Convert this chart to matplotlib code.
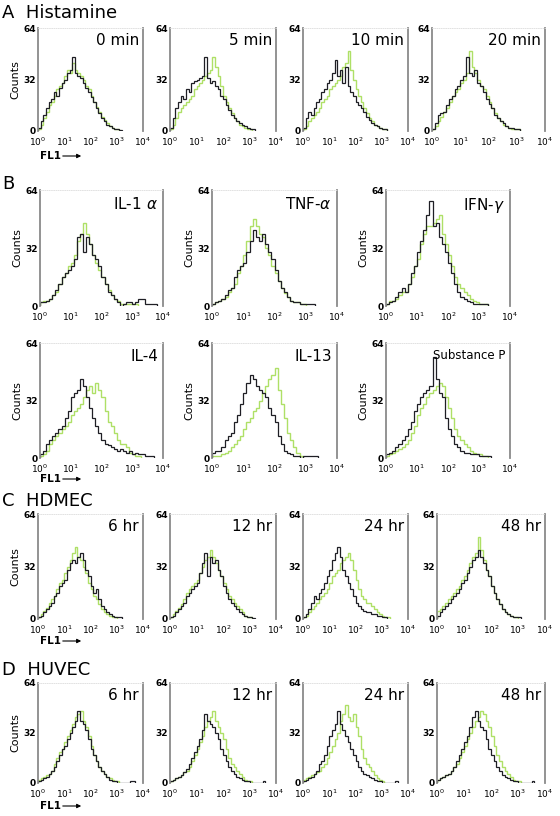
import numpy as np
import matplotlib
matplotlib.use('Agg')
import matplotlib.pyplot as plt

# histogram counts, bins of 0.1 decade starting at 10^0
# (control = black, treated = green)
histamine_titles = ['0 min', '5 min', '10 min', '20 min']
histamine_black = [
    [2, 6, 10, 14, 18, 20, 24, 22, 27, 30, 32, 36, 38, 46, 36, 34, 33, 30, 27, 24, 21, 18, 14, 11, 8, 6, 4, 3, 2, 1, 1, 0.5],
    [2, 8, 14, 18, 22, 20, 26, 24, 30, 31, 32, 33, 34, 46, 33, 30, 31, 28, 26, 22, 20, 16, 13, 10, 8, 6, 5, 4, 3, 2, 1, 1],
    [2, 8, 12, 10, 14, 18, 20, 24, 26, 30, 32, 36, 44, 34, 38, 30, 40, 28, 24, 22, 18, 16, 14, 12, 9, 7, 5, 4, 3, 2, 1, 1],
    [1, 5, 10, 11, 12, 16, 20, 22, 26, 28, 32, 34, 46, 36, 34, 38, 30, 28, 24, 20, 17, 14, 10, 8, 6, 5, 3, 2, 2, 1, 1],
]
histamine_green = [
    [1, 4, 8, 12, 16, 18, 22, 26, 28, 30, 34, 38, 36, 42, 38, 36, 34, 32, 28, 26, 22, 18, 15, 12, 9, 7, 5, 3, 2, 1, 1],
    [1, 4, 8, 12, 14, 16, 18, 20, 22, 26, 28, 30, 32, 34, 36, 38, 46, 40, 34, 28, 22, 18, 14, 11, 8, 6, 4, 3, 2, 1, 1],
    [1, 3, 6, 8, 10, 12, 14, 18, 20, 22, 26, 28, 30, 32, 34, 40, 42, 50, 38, 32, 26, 22, 18, 14, 11, 8, 6, 4, 3, 2, 1, 1],
    [1, 3, 6, 9, 12, 14, 18, 22, 24, 26, 30, 32, 36, 50, 40, 36, 32, 28, 26, 22, 18, 14, 11, 8, 6, 4, 3, 2, 1, 1, 1],
]

cytokine_titles = ['IL-1 $\\alpha$', 'TNF-$\\alpha$', 'IFN-$\\gamma$', 'IL-4', 'IL-13', 'Substance P']
cytokine_black = [
    [2, 2, 3, 4, 6, 9, 12, 16, 18, 20, 22, 26, 38, 40, 30, 38, 34, 28, 26, 22, 16, 12, 8, 6, 4, 2, 0, 1, 2, 2, 1, 2, 4, 4, 1, 1, 1, 1],
    [1, 2, 3, 4, 6, 9, 10, 16, 20, 22, 24, 30, 36, 42, 38, 36, 40, 34, 30, 26, 20, 14, 10, 8, 5, 3, 2, 2, 1, 1, 1, 1, 1],
    [1, 2, 3, 5, 8, 10, 8, 12, 18, 22, 30, 36, 42, 50, 58, 44, 46, 38, 34, 30, 24, 18, 12, 8, 5, 4, 3, 2, 1, 1, 1, 1, 1],
    [2, 4, 8, 10, 12, 14, 16, 18, 22, 26, 34, 36, 38, 44, 40, 34, 28, 22, 18, 14, 10, 8, 7, 6, 5, 4, 5, 4, 3, 4, 2, 3, 2, 2, 1, 1, 1],
    [3, 4, 4, 6, 10, 12, 14, 20, 24, 30, 36, 42, 46, 44, 40, 38, 36, 34, 28, 24, 20, 12, 8, 4, 3, 2, 1, 1, 0, 1, 1, 1, 1, 1],
    [2, 3, 4, 6, 8, 10, 12, 16, 20, 26, 30, 34, 36, 38, 40, 56, 44, 36, 34, 22, 16, 12, 8, 6, 4, 3, 3, 2, 2, 2, 1, 1, 1, 1],
]
cytokine_green = [
    [2, 3, 3, 4, 6, 8, 12, 16, 18, 22, 24, 28, 36, 40, 46, 40, 34, 28, 24, 20, 16, 12, 9, 6, 4, 3, 1, 1, 1, 1, 1, 1],
    [1, 2, 3, 4, 5, 8, 10, 12, 18, 22, 28, 36, 44, 48, 44, 40, 38, 32, 28, 22, 18, 14, 10, 7, 5, 3, 2, 2, 1, 1],
    [1, 3, 3, 4, 6, 8, 8, 12, 16, 22, 26, 34, 40, 44, 44, 46, 48, 50, 40, 34, 28, 22, 16, 12, 10, 8, 6, 4, 3, 2, 1, 1, 1],
    [1, 2, 4, 8, 10, 12, 14, 16, 18, 20, 24, 26, 28, 30, 34, 38, 40, 36, 42, 38, 34, 26, 20, 18, 14, 10, 8, 8, 6, 3, 2, 1, 1],
    [1, 1, 1, 2, 3, 4, 6, 8, 10, 12, 16, 20, 22, 26, 28, 32, 36, 40, 44, 46, 50, 38, 30, 22, 14, 10, 6, 3, 1],
    [1, 2, 3, 4, 5, 6, 8, 10, 14, 18, 24, 28, 30, 34, 36, 38, 40, 42, 40, 34, 28, 22, 16, 12, 10, 8, 6, 4, 3, 2, 2, 1, 1],
]

time_titles = ['6 hr', '12 hr', '24 hr', '48 hr']
hdmec_black = [
    [1, 2, 4, 6, 8, 10, 14, 16, 20, 22, 24, 30, 34, 36, 34, 38, 40, 36, 30, 26, 20, 16, 18, 12, 8, 6, 4, 3, 2, 1, 1, 1],
    [1, 2, 4, 6, 8, 10, 14, 16, 18, 20, 22, 28, 34, 40, 26, 38, 34, 36, 30, 26, 20, 16, 12, 10, 8, 6, 4, 3, 2, 1, 1, 0.5],
    [1, 3, 6, 10, 14, 12, 16, 18, 22, 26, 30, 36, 40, 44, 38, 30, 26, 22, 18, 14, 10, 8, 6, 5, 4, 4, 3, 3, 2, 2, 1, 1],
    [2, 4, 6, 8, 10, 12, 14, 16, 18, 22, 24, 28, 32, 36, 38, 42, 38, 34, 30, 26, 20, 16, 12, 9, 6, 4, 3, 2, 1, 1, 1],
]
hdmec_green = [
    [1, 3, 5, 7, 10, 12, 14, 18, 22, 24, 28, 32, 36, 40, 44, 38, 36, 32, 28, 22, 18, 14, 12, 9, 6, 4, 3, 2, 1, 1],
    [1, 3, 5, 7, 9, 12, 16, 18, 20, 22, 24, 28, 32, 36, 38, 42, 38, 34, 30, 26, 22, 18, 14, 12, 10, 8, 6, 4, 2, 1, 1],
    [1, 2, 4, 6, 8, 10, 12, 14, 16, 18, 22, 26, 28, 30, 34, 36, 38, 40, 36, 30, 24, 18, 14, 12, 10, 10, 8, 6, 4, 3, 2, 1, 1],
    [5, 6, 8, 10, 12, 14, 16, 18, 20, 24, 26, 30, 34, 38, 40, 50, 42, 36, 30, 26, 20, 16, 12, 9, 6, 4, 3, 2, 1, 1],
]
huvec_black = [
    [1, 2, 3, 4, 6, 8, 10, 14, 18, 22, 24, 28, 32, 36, 40, 46, 40, 38, 34, 28, 22, 18, 14, 10, 8, 6, 4, 2, 1, 1, 0, 0, 0, 0, 0, 1, 1],
    [1, 2, 3, 4, 5, 7, 9, 12, 16, 20, 24, 28, 34, 44, 40, 38, 36, 32, 28, 22, 18, 14, 10, 8, 6, 4, 3, 2, 1, 1, 0, 0, 0, 0, 0, 1],
    [1, 2, 3, 4, 6, 8, 12, 14, 18, 24, 30, 34, 38, 46, 38, 34, 30, 26, 22, 18, 14, 10, 8, 6, 5, 4, 3, 2, 1, 1, 0, 0, 0, 0, 0, 1],
    [2, 3, 4, 5, 6, 8, 10, 14, 18, 22, 26, 30, 36, 42, 46, 40, 36, 34, 28, 22, 18, 14, 10, 8, 5, 4, 3, 2, 1, 1, 0, 0, 0, 0, 0, 1],
]
huvec_green = [
    [2, 3, 4, 5, 6, 8, 12, 16, 20, 22, 26, 30, 34, 38, 42, 44, 46, 40, 36, 30, 24, 18, 14, 10, 8, 6, 4, 3, 2, 1, 1],
    [1, 2, 3, 4, 5, 7, 8, 10, 14, 18, 22, 26, 30, 36, 40, 42, 46, 40, 36, 32, 28, 22, 16, 12, 10, 8, 6, 4, 2, 1, 1],
    [2, 3, 4, 5, 6, 7, 8, 10, 12, 16, 20, 24, 28, 32, 40, 44, 50, 42, 40, 44, 36, 30, 22, 16, 12, 10, 8, 5, 3, 2, 1],
    [2, 3, 4, 5, 6, 8, 10, 12, 16, 20, 24, 28, 32, 36, 40, 42, 46, 44, 40, 36, 30, 24, 18, 14, 10, 8, 6, 4, 2, 1, 1],
]

W, H = 560, 816
fig = plt.figure(figsize=(W / 100, H / 100), dpi=100)

GREEN = '#aee066'
BLACK = '#1e1e24'


def px_axes(x0, x1, y0, y1):
    return fig.add_axes([x0 / W, 1 - y1 / H, (x1 - x0) / W, (y1 - y0) / H])


def hist_panel(ax, black, green, title, counts=False, tsize=11):
    for vals, col, lw in [(green, GREEN, 1.0), (black, BLACK, 0.9)]:
        edges = 10 ** (np.arange(len(vals) + 1) * 0.1)
        ax.stairs(vals, edges, color=col, lw=lw)
    ax.set_xscale('log')
    ax.set_xlim(1, 1e4)
    ax.set_ylim(0, 64)
    ax.set_xticks([1, 10, 100, 1000, 10000])
    ax.set_xticklabels(['$10^0$', '$10^1$', '$10^2$', '$10^3$', '$10^4$'])
    ax.minorticks_off()
    ax.set_yticks([0, 32, 64])
    ax.tick_params(axis='x', length=0, labelsize=6.5, pad=3)
    ax.tick_params(axis='y', length=0, labelsize=6.5, pad=1.5)
    for lab in ax.get_yticklabels():
        lab.set_fontweight('bold')
    for s in ['left', 'right']:
        ax.spines[s].set_color('#8a8a8a')
        ax.spines[s].set_linewidth(1.3)
    ax.spines['top'].set_color('#dddddd')
    ax.spines['top'].set_linewidth(0.6)
    ax.spines['top'].set_linestyle(':')
    ax.spines['bottom'].set_visible(False)
    ax.text(0.96, 0.95, title, transform=ax.transAxes, ha='right', va='top', fontsize=tsize)
    if counts:
        ax.set_ylabel('Counts', fontsize=8, labelpad=2)


def fl1(x, y):
    fig.text(x / W, 1 - y / H, 'FL1', fontsize=7.5, fontweight='bold', va='center')
    fig.add_artist(matplotlib.patches.FancyArrowPatch(
        ((x + 20) / W, 1 - y / H), ((x + 44) / W, 1 - y / H),
        transform=fig.transFigure, arrowstyle='-|>', mutation_scale=6, lw=0.8, color='black'))


four_x = [(38, 143), (170, 276), (303, 408), (432, 545)]
three_x = [(40, 163), (212, 337), (386, 510)]

# A
fig.text(2 / W, 1 - 13 / H, 'A  Histamine', fontsize=13, va='center')
for i, (x0, x1) in enumerate(four_x):
    ax = px_axes(x0, x1, 28, 131)
    hist_panel(ax, histamine_black[i], histamine_green[i], histamine_titles[i], counts=(i == 0))
fl1(40, 156)

# B
fig.text(2 / W, 1 - 184 / H, 'B', fontsize=13, va='center')
for i in range(6):
    x0, x1 = three_x[i % 3]
    y0, y1 = (190, 306) if i < 3 else (343, 458)
    ax = px_axes(x0, x1, y0, y1)
    hist_panel(ax, cytokine_black[i], cytokine_green[i], cytokine_titles[i], counts=True,
               tsize=8.5 if i == 5 else 11)
fl1(40, 479)

# C
fig.text(2 / W, 1 - 501 / H, 'C  HDMEC', fontsize=13, va='center')
for i, (x0, x1) in enumerate(four_x):
    ax = px_axes(x0 if i < 3 else 437, x1, 514, 619)
    hist_panel(ax, hdmec_black[i], hdmec_green[i], time_titles[i], counts=(i == 0))
fl1(40, 641)

# D
fig.text(2 / W, 1 - 670 / H, 'D  HUVEC', fontsize=13, va='center')
for i, (x0, x1) in enumerate(four_x):
    ax = px_axes(x0 if i < 3 else 437, x1, 683, 783)
    hist_panel(ax, huvec_black[i], huvec_green[i], time_titles[i], counts=(i == 0))
fl1(40, 806)

fig.savefig('out.png', dpi=100)
